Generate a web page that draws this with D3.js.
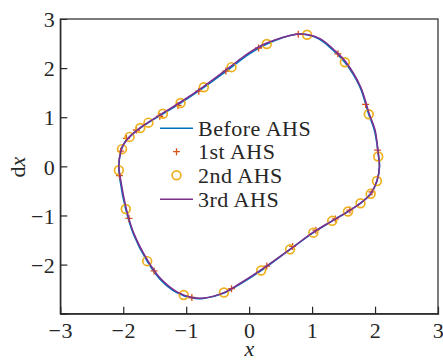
<!DOCTYPE html>
<html><head><meta charset="utf-8">
<script src="https://cdn.jsdelivr.net/npm/d3@7"></script>
<style>
body{margin:0;background:#fff;}
text{font-family:"Liberation Serif","Times New Roman",serif;fill:#262626;}
</style></head>
<body><svg id="c" width="443" height="360"></svg>
<script>
// Data (clockwise closed orbits)
const beforeX = [0.74,0.92,1.12,1.33,1.52,1.76,1.90,1.99,2.05,2.07,2.03,1.93,1.77,1.57,1.32,1.02,0.65,0.19,-0.15,-0.40,-0.73,-0.91,-1.15,-1.42,-1.62,-1.84,-1.96,-2.05,-2.07,-2.04,-1.99,-1.90,-1.73,-1.60,-1.37,-1.09,-0.72,-0.28,-0.02,0.28];
const beforeY = [2.69,2.68,2.59,2.37,2.12,1.62,1.06,0.74,0.27,0.00,-0.30,-0.56,-0.75,-0.92,-1.11,-1.35,-1.69,-2.12,-2.40,-2.58,-2.69,-2.68,-2.57,-2.29,-1.93,-1.37,-0.87,-0.28,0.00,0.30,0.46,0.60,0.78,0.89,1.07,1.29,1.61,2.02,2.27,2.49];
const thirdX = [0.76,0.94,1.14,1.35,1.54,1.77,1.91,2.00,2.05,2.07,2.03,1.93,1.77,1.57,1.32,1.02,0.66,0.20,-0.14,-0.40,-0.72,-0.90,-1.14,-1.41,-1.61,-1.83,-1.95,-2.04,-2.07,-2.04,-1.99,-1.90,-1.74,-1.61,-1.38,-1.10,-0.73,-0.30,-0.04,0.26];
const thirdY = [2.69,2.68,2.59,2.37,2.12,1.62,1.06,0.74,0.27,0.00,-0.30,-0.56,-0.75,-0.92,-1.11,-1.34,-1.68,-2.10,-2.38,-2.57,-2.68,-2.67,-2.56,-2.28,-1.92,-1.37,-0.87,-0.28,0.00,0.30,0.46,0.60,0.78,0.89,1.08,1.30,1.62,2.03,2.28,2.50];
const firstX = [0.78,1.41,1.85,2.04,1.95,1.60,1.37,1.06,0.69,0.28,-0.28,-0.91,-1.51,-1.91,-2.06,-2.04,-1.95,-1.79,-1.42,-1.13,-0.80,-0.37,0.15];
const firstY = [2.69,2.29,1.26,0.33,-0.52,-0.89,-1.07,-1.30,-1.63,-2.03,-2.49,-2.67,-2.13,-1.06,-0.19,0.31,0.57,0.74,1.02,1.24,1.53,1.94,2.41];
const secondX = [0.92,1.52,1.90,2.05,2.03,1.93,1.77,1.57,1.32,1.02,0.65,0.19,-0.40,-1.04,-1.62,-1.96,-2.07,-2.02,-1.90,-1.73,-1.60,-1.37,-1.09,-0.72,-0.28,0.28];
const secondY = [2.68,2.12,1.06,0.20,-0.30,-0.56,-0.75,-0.92,-1.11,-1.35,-1.69,-2.12,-2.57,-2.62,-1.93,-0.87,-0.08,0.35,0.60,0.78,0.89,1.07,1.29,1.61,2.02,2.49];
const ticks = [-3,-2,-1,0,1,2,3];
const legendLabels = ["Before AHS","1st AHS","2nd AHS","3rd AHS"];

const svg = d3.select("#c");
const L=60.3, R=438, T=19, B=313.7;
const x = d3.scaleLinear().domain([-3,3]).range([L,R]);
const y = d3.scaleLinear().domain([-3,3]).range([B,T]);
const axisColor="#262626";
const fmt = d => d<0 ? "\u2212"+Math.abs(d) : String(d);
const FS = "22px";

// box
svg.append("rect").attr("x",L).attr("y",T).attr("width",R-L).attr("height",B-T)
  .attr("fill","none").attr("stroke",axisColor).attr("stroke-width",1.2);

const xa = svg.append("g").attr("transform",`translate(0,${B})`)
  .call(d3.axisBottom(x).tickValues(ticks).tickSize(-7).tickFormat(fmt));
const ya = svg.append("g").attr("transform",`translate(${L},0)`)
  .call(d3.axisLeft(y).tickValues(ticks).tickSize(-7).tickFormat(fmt));
[xa,ya].forEach(g=>{
  g.select(".domain").attr("stroke",axisColor).attr("stroke-width",1.2);
  g.selectAll(".tick line").attr("stroke",axisColor).attr("stroke-width",1.2);
  g.selectAll(".tick text").attr("fill",axisColor).style("font-family","Liberation Serif, serif").style("font-size",FS).style("letter-spacing","0.5px");
});
xa.selectAll(".tick text").attr("y",9).attr("dy","0.71em");
ya.selectAll(".tick text").attr("x",-5).attr("dy","0.35em");
ya.selectAll(".tick").filter(d=>d===-3).remove();
xa.selectAll(".tick").filter(d=>d===-3 || d===3).select("line").remove();
ya.selectAll(".tick").filter(d=>d===3).select("line").remove();

// axis labels
svg.append("text").attr("x",249.3).attr("y",356).attr("text-anchor","middle")
  .style("font-size",FS).style("font-style","italic").text("x");
svg.append("text").attr("transform","translate(25,167) rotate(-90)").attr("text-anchor","middle")
  .style("font-size",FS)
  .call(t=>{t.append("tspan").text("d");t.append("tspan").style("font-style","italic").text("x");});

const line = d3.line().x(d=>x(d[0])).y(d=>y(d[1])).curve(d3.curveCatmullRomClosed.alpha(0.5));
const bef = d3.zip(beforeX,beforeY), thr = d3.zip(thirdX,thirdY);
const p1 = d3.zip(firstX,firstY), p2 = d3.zip(secondX,secondY);

const blue="#0072BD", red="#D95319", orange="#EDB120", purple="#7E2F8E";
svg.append("path").datum(bef).attr("d",line).attr("fill","none").attr("stroke",blue).attr("stroke-width",1.7);
const plus = (g,cx,cy)=>{
  g.append("path").attr("d",`M${cx-3.5},${cy}H${cx+3.5}M${cx},${cy-3.5}V${cy+3.5}`)
   .attr("stroke",red).attr("stroke-width",1.3).attr("fill","none");
};
const pg = svg.append("g");
p1.forEach(d=>plus(pg,x(d[0]),y(d[1])));
svg.append("g").selectAll("circle").data(p2).join("circle")
  .attr("cx",d=>x(d[0])).attr("cy",d=>y(d[1])).attr("r",4.4)
  .attr("fill","none").attr("stroke",orange).attr("stroke-width",1.7);
svg.append("path").datum(thr).attr("d",line).attr("fill","none").attr("stroke",purple).attr("stroke-width",1.5);

// legend
const lg = svg.append("g");
const rows=[128.3,151.7,175.2,199.3];
lg.append("line").attr("x1",160).attr("x2",193).attr("y1",rows[0]).attr("y2",rows[0]).attr("stroke",blue).attr("stroke-width",1.6);
plus(lg,176.5,rows[1]);
lg.append("circle").attr("cx",176.5).attr("cy",rows[2]).attr("r",4.4).attr("fill","none").attr("stroke",orange).attr("stroke-width",1.7);
lg.append("line").attr("x1",160).attr("x2",193).attr("y1",rows[3]).attr("y2",rows[3]).attr("stroke",purple).attr("stroke-width",1.6);
legendLabels.forEach((s,i)=>{
  lg.append("text").attr("x",198).attr("y",rows[i]).attr("dy","0.35em").style("font-size",FS).style("letter-spacing","0.5px").text(s);
});
</script></body></html>
